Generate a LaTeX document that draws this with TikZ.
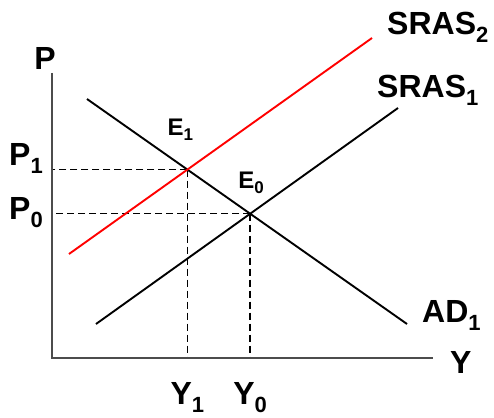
\documentclass[tikz,border=0pt]{standalone}
\usepackage{fontspec}
\setmainfont{Liberation Sans}
\usetikzlibrary{positioning}
\newcommand\lowidx[1]{\raisebox{-8pt}{\fontsize{22}{22}\selectfont #1}}
\newcommand\eidx[1]{\raisebox{-5pt}{\fontsize{17}{17}\selectfont #1}}

\begin{document}
\begin{tikzpicture}[x=1pt, y=-1pt,
  lbl/.style={font=\fontsize{32}{32}\selectfont\bfseries, inner sep=0pt},
  elbl/.style={font=\fontsize{24}{24}\selectfont\bfseries, inner sep=0pt},
  axis/.style={draw=black!70, line width=1.5pt},
  curve/.style={line width=1.9pt},
  guide/.style={line width=1.5pt, dash pattern=on 7pt off 4pt}]
\useasboundingbox (0,0) rectangle (494,417);
\coordinate (O) at (52,358);
\coordinate (ytop) at (52,73);
\coordinate (xend) at (433,358);
\coordinate (ad-a) at (87,99);
\coordinate (ad-b) at (407,324);
\coordinate (s1-a) at (96,324);
\coordinate (s1-b) at (398,108);
\coordinate (s2-a) at (69,254);
\coordinate (s2-b) at (372,38);
\coordinate (E1) at (intersection of ad-a--ad-b and s2-a--s2-b);
\coordinate (E0) at (intersection of ad-a--ad-b and s1-a--s1-b);
\draw[guide] (E1) -- (E1 -| O);
\draw[guide] (E1) -- (E1 |- O);
\draw[guide] (E0) -- (E0 -| O);
\draw[guide] (E0) -- (E0 |- O);
\draw[axis] (ytop) -- (O) -- (xend);
\draw[curve] (ad-a) -- (ad-b);
\draw[curve] (s1-a) -- (s1-b);
\draw[curve, red] (s2-a) -- (s2-b);
\node[lbl, anchor=base, xshift=-7pt, yshift=3pt] (plbl) at (ytop) {P};
\node[lbl, anchor=base west, xshift=17pt, yshift=-15pt] (ylbl) at (xend) {Y};
\node[lbl, anchor=base east, xshift=-9pt, yshift=4pt] (p1lbl) at (E1 -| O) {P\lowidx{1}};
\node[lbl, anchor=base east, xshift=-9pt, yshift=-6pt] (p0lbl) at (E0 -| O) {P\lowidx{0}};
\node[lbl, anchor=base, yshift=-46pt] (y1lbl) at (E1 |- O) {Y\lowidx{1}};
\node[lbl, anchor=base, yshift=-46pt] (y0lbl) at (E0 |- O) {Y\lowidx{0}};
\node[elbl, anchor=base west, xshift=-20pt, yshift=34pt] (e1lbl) at (E1) {E\eidx{1}};
\node[elbl, anchor=base west, xshift=-12pt, yshift=25pt] (e0lbl) at (E0) {E\eidx{0}};
\node[lbl, anchor=base west, xshift=15pt, yshift=3pt] (s2lbl) at (s2-b) {SRAS\lowidx{2}};
\node[lbl, anchor=base west, xshift=-21pt, yshift=11pt] (s1lbl) at (s1-b) {SRAS\lowidx{1}};
\node[lbl, anchor=base west, xshift=15pt, yshift=2pt] (adlbl) at (ad-b) {AD\lowidx{1}};
\end{tikzpicture}
\end{document}
